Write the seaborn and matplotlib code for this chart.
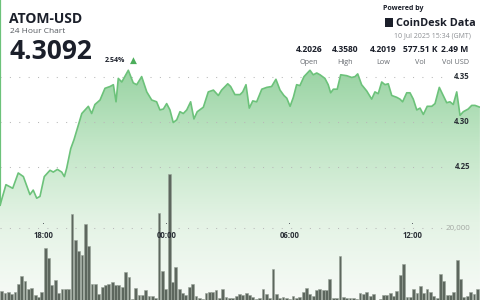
import numpy as np
import matplotlib
matplotlib.use("Agg")
import matplotlib.pyplot as plt
import matplotlib.transforms as mtransforms
from matplotlib.patches import Rectangle
from matplotlib.colors import LinearSegmentedColormap
import seaborn as sns

sns.set_theme(style="white")
plt.rcParams['font.family'] = ['Open Sans', 'DejaVu Sans']

# ---------------- data ----------------
price_hours = [15.89, 16.18, 16.51, 16.78, 17.03, 17.35, 17.51, 17.68, 17.84, 18.05,
               18.33, 18.49, 18.69, 18.90, 19.03, 19.14, 19.34, 19.50, 19.88, 20.20,
               20.36, 20.52, 20.77, 21.01, 21.26, 21.42, 21.55, 21.66, 21.83, 22.15,
               22.39, 22.56, 22.80, 23.05, 23.29, 23.53, 23.69,
               23.86, 24.02, 24.18, 24.34, 24.51, 24.67, 24.83, 25.00, 25.19, 25.35,
               25.51, 25.81, 26.05, 26.30, 26.54, 26.70, 27.00, 27.14, 27.35, 27.60,
               27.73, 27.89, 28.05, 28.22, 28.41, 28.66, 28.90, 29.14, 29.35, 29.55,
               29.74, 29.88, 30.04, 30.20, 30.36, 30.52, 30.72, 31.01, 31.17, 31.34, 31.50,
               31.74, 31.90, 32.02, 32.15, 32.34, 32.51, 32.80, 33.05, 33.21, 33.34,
               33.53, 33.78, 34.02, 34.18, 34.34, 34.51, 34.67, 34.83, 35.00, 35.24,
               35.40, 35.53, 35.73, 35.89, 36.05, 36.22, 36.38, 36.54, 36.73, 36.95,
               37.11, 37.32, 37.51, 37.68, 37.84, 38.00, 38.17, 38.33, 38.49, 38.73,
               38.90, 39.06, 39.30]
price_values = [4.207, 4.230, 4.226, 4.243, 4.239, 4.219, 4.224, 4.215, 4.217, 4.239,
                4.246, 4.244, 4.247, 4.244, 4.239, 4.248, 4.270, 4.280, 4.309, 4.317,
                4.309, 4.319, 4.324, 4.337, 4.339, 4.341, 4.322, 4.348, 4.344, 4.357,
                4.343, 4.341, 4.350, 4.333, 4.324, 4.322, 4.313,
                4.314, 4.320, 4.313, 4.299, 4.302, 4.311, 4.309, 4.313, 4.322, 4.303,
                4.311, 4.316, 4.333, 4.335, 4.329, 4.335, 4.342, 4.339, 4.330, 4.330,
                4.333, 4.341, 4.315, 4.323, 4.322, 4.336, 4.338, 4.339, 4.347, 4.335,
                4.329, 4.326, 4.317, 4.327, 4.341, 4.340, 4.350, 4.357, 4.352, 4.354, 4.352,
                4.348, 4.341, 4.332, 4.336, 4.336, 4.352, 4.351, 4.349, 4.350, 4.353,
                4.341, 4.334, 4.325, 4.333, 4.331, 4.344, 4.341, 4.342, 4.329, 4.327,
                4.325, 4.322, 4.332, 4.332, 4.325, 4.313, 4.315, 4.308, 4.317, 4.317,
                4.320, 4.338, 4.329, 4.321, 4.322, 4.319, 4.333, 4.307, 4.311, 4.314,
                4.318, 4.318, 4.316]

vol_start_hour = 15.97
vol_step_hours = 0.1634
volumes = [2600, 2050, 2300, 1700, 2300, 4460, 6700, 5300, 3000, 3250,
           1400, 750, 2230, 14600, 11800, 4200, 5600, 1860, 3000, 3160,
           3070, 24100, 16650, 13700, 12550, 21100, 15150, 4370, 4370, 1580,
           3720, 4200, 4560, 5100, 4200, 4200, 3530, 7900, 6500, 300,
           3350, 1400, 1400, 2800, 1200, 1100, 500, 24200,
           8200, 3160, 35150, 5100, 9300, 3070, 1860, 1300, 3720, 4460,
           1200, 650, 370, 1860, 2140, 2140, 2800, 460, 3070, 930,
           650, 560, 1100, 1580, 1400, 1860, 1490, 930, 370, 460,
           3160, 1670, 460, 8650, 1580, 560, 930, 460, 190, 1100,
           460, 740, 2230, 3250, 1670, 1100, 2800,
           2980, 2800, 2800, 5860, 650, 460, 12280, 930, 460, 650,
           460, 190, 2050, 1580, 2140, 1200, 1670, 0, 370, 1400,
           1490, 2050, 1100, 2600, 6980, 9950, 840, 840, 2980, 1860,
           3900, 1860, 3070, 2140, 1100, 650, 7160, 5300, 1300, 1490,
           2140, 11160, 5770, 740, 1200, 2330, 1670, 2980]
vol_hours = [round(vol_start_hour + i * vol_step_hours, 4) for i in range(len(volumes))]

price_ticks = [4.25, 4.30, 4.35]
vol_ticks = [20000]
time_ticks = [18, 24, 30, 36]
time_labels = ["18:00", "00:00", "06:00", "12:00"]
stats_values = ["4.2026", "4.3580", "4.2019", "577.51 K", "2.49 M"]
stats_labels = ["Open", "High", "Low", "Vol", "Vol USD"]

# ---------------- figure ----------------
X_LIM = (15.89, 39.305)
P_LIM = (4.102, 4.435)
V_LIM = (0, 83700)

fig = plt.figure(figsize=(4.8, 3.0), dpi=100)
fig.patch.set_facecolor("white")
ax = fig.add_axes([0, 0, 1, 1])
ax.set_facecolor("white")
ax2 = ax.twinx()

# gradient area under price line
fill = ax.fill_between(price_hours, price_values, P_LIM[0], color="none", lw=0)
grad = np.linspace(1, 0, 256).reshape(-1, 1)
cmap = LinearSegmentedColormap.from_list("g", ["#f7fbf7", "#e4f3e5", "#c2e6c7", "#98d3a2"])
im = ax.imshow(grad, extent=[X_LIM[0], X_LIM[1], P_LIM[0], 4.36], aspect="auto",
               cmap=cmap, zorder=1, interpolation="bilinear")
im.set_clip_path(fill.get_paths()[0], transform=ax.transData)

sns.lineplot(x=price_hours, y=price_values, ax=ax, color="#6cc27a", lw=1.2, zorder=3)
# left edge stroke of the area
ax.plot([price_hours[0]] * 2, [price_values[0], P_LIM[1]], color="#6cc27a", lw=1.6, zorder=3)

# price grid
blend_p = mtransforms.blended_transform_factory(ax.transAxes, ax.transData)
for t in price_ticks:
    ax.axhline(t, xmax=0.935, color="#b8b8b8", lw=0.75, ls=(0, (1, 8)), zorder=2)
    ax.text(0.979, t, f"{t:.2f}", transform=blend_p, ha="right", va="center",
            fontsize=5.6, fontweight="bold", color="#2a2f36", zorder=5)

# volume bars
sns.barplot(x=vol_hours, y=volumes, native_scale=True, width=0.84, color="#5d675e",
            edgecolor="#98a398", linewidth=0.4, saturation=1, errorbar=None, ax=ax2, zorder=4)

blend_v = mtransforms.blended_transform_factory(ax2.transAxes, ax2.transData)
for v in vol_ticks:
    ax2.axhline(v, xmax=0.935, color="#b8b8b8", lw=0.75, ls=(0, (1, 8)), zorder=2)
    ax2.text(0.979, v, f"{v:,}", transform=blend_v, ha="right", va="center",
             fontsize=5.8, color="#a3a8a3", zorder=5)

# time labels
blend_t = mtransforms.blended_transform_factory(ax2.transData, ax2.transAxes)
for h, lab in zip(time_ticks, time_labels):
    ax2.text(h, 0.215, lab, transform=blend_t, ha="center", va="center",
             fontsize=5.6, fontweight="bold", color="#2a2f36", zorder=6)
    ax2.plot([h], [0.257], transform=blend_t, marker="s", ms=0.6, mew=0,
             color="#555a60", zorder=6)

for a in (ax, ax2):
    a.set_xlim(*X_LIM)
    a.set_xticks([])
    a.set_yticks([])
    a.set_xlabel("")
    a.set_ylabel("")
    for s in a.spines.values():
        s.set_visible(False)
ax.set_ylim(*P_LIM)
ax2.set_ylim(*V_LIM)

# ---------------- header ----------------
W, H = 480.0, 300.0
def fx(x):
    return x / W
def fy(y):
    return 1 - y / H

dark = "#1b1f2a"
fig.text(fx(9), fy(23), "ATOM-USD", fontsize=10, fontweight="bold", color=dark, va="baseline")
fig.text(fx(10), fy(33), "24 Hour Chart", fontsize=6, color="#555a60", va="baseline")
fig.text(fx(9), fy(58.5), "4.3092", fontsize=19, fontweight="bold", color=dark, va="baseline")
fig.text(fx(105), fy(62), "2.54%", fontsize=5, fontweight="bold", color=dark, va="baseline")
fig.text(fx(129.5), fy(62.5), "\u25B2", fontsize=6.5, color="#4cae5b", va="baseline",
         family=["DejaVu Sans"])

fig.text(fx(403), fy(10), "Powered by", fontsize=5, fontweight="bold", color=dark,
         ha="center", va="baseline")
fig.add_artist(Rectangle((fx(385), fy(27)), 8 / W, 9 / H, transform=fig.transFigure,
                         facecolor=dark, edgecolor="none"))
fig.text(fx(396), fy(26.5), "CoinDesk Data", fontsize=7.8, fontweight="bold", color=dark,
         va="baseline")
fig.text(fx(471), fy(37), "10 Jul 2025 15:34 (GMT)", fontsize=5, color="#8c8f93",
         ha="right", va="baseline")

centers = [309, 345.5, 383, 420, 455]
for cx, val, lab in zip(centers, stats_values, stats_labels):
    fig.text(fx(cx), fy(51.5), val, fontsize=6.1, fontweight="bold", color=dark,
             ha="center", va="baseline")
    fig.text(fx(cx), fy(64), lab, fontsize=5.2, color="#666a70", ha="center", va="baseline")

fig.savefig("out.png", dpi=100, facecolor="white")
